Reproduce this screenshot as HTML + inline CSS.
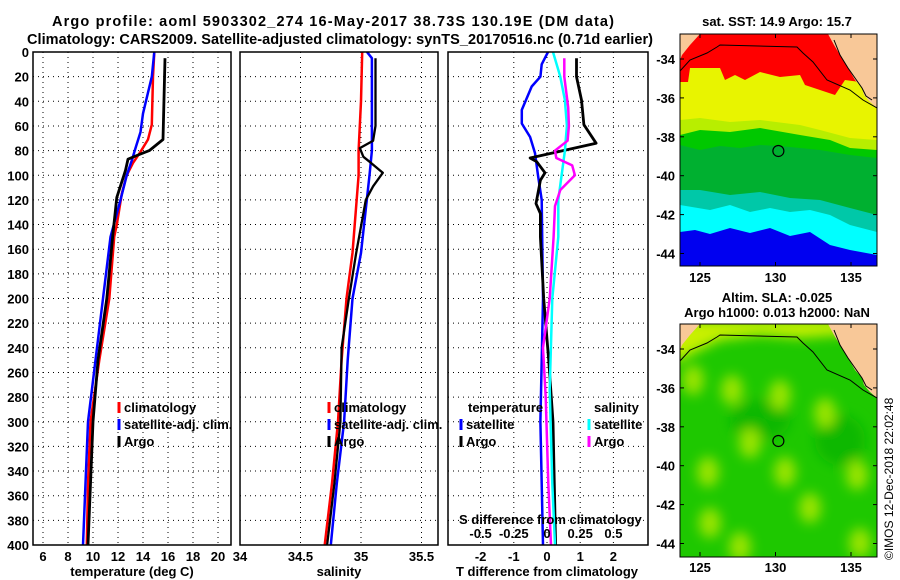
<!DOCTYPE html>
<html><head><meta charset="utf-8"><style>
html,body{margin:0;padding:0;background:#fff}
svg{display:block;font-family:"Liberation Sans",Arial,sans-serif;font-weight:bold}
text{font-size:13px;fill:#000}
</style></head><body>
<svg id="fig" width="900" height="580" viewBox="0 0 900 580">
<defs>
<clipPath id="c1"><rect x="33" y="52" width="198" height="493"/></clipPath>
<clipPath id="c2"><rect x="240" y="52" width="198" height="493"/></clipPath>
<clipPath id="c3"><rect x="448" y="52" width="200" height="493"/></clipPath>
<clipPath id="cm1"><rect x="680" y="34" width="197" height="232"/></clipPath>
<clipPath id="cm2"><rect x="680" y="324" width="197" height="233"/></clipPath>
<filter id="blur" x="-50%" y="-50%" width="200%" height="200%"><feGaussianBlur stdDeviation="6"/></filter>
</defs>
<text x="52" y="26" style="font-size:14.5px" textLength="562">Argo profile: aoml 5903302_274 16-May-2017 38.73S 130.19E (DM data)</text>
<text x="27" y="44" style="font-size:14.5px" textLength="626">Climatology: CARS2009. Satellite-adjusted climatology: synTS_20170516.nc (0.71d earlier)</text>
<g id="p1"></g>
<g id="p2"></g>
<g id="p3"></g>
<g id="leg"></g>
<g id="m1"></g>
<g id="m2"></g>
<text transform="translate(893,560) rotate(-90)" style="font-size:12px;font-weight:normal">©IMOS 12-Dec-2018 22:02:48</text>
</svg>
<script>
// ---- data ----
const depthTicks=[0,20,40,60,80,100,120,140,160,180,200,220,240,260,280,300,320,340,360,380,400];
const tempTicks=[6,8,10,12,14,16,18,20];
const salTicks=[34,34.5,35,35.5];
const salTickLabels=["34","34.5","35","35.5"];
const tdiffTicks=[-2,-1,0,1,2];
const sdiffTicks=[-0.5,-0.25,0,0.25,0.5];
const sdiffLabels=["-0.5","-0.25","0","0.25","0.5"];

const climTdepth=[0,20,59,71,81,90,100,115,140,150,200,250,300,350,400];
const climT=[14.9,14.8,14.7,14.4,13.8,13.2,12.7,12.3,11.9,11.7,11.3,10.5,9.8,9.6,9.5];
const satTdepth=[0,20,50,65,78,88,100,120,150,200,250,300,350,400];
const satT=[14.9,14.7,14.0,13.8,13.4,13.1,12.7,12.2,11.4,10.8,10.2,9.6,9.4,9.2];
const argoTdepth=[5,71,80,84,87,96,118,147,200,250,300,350,400];
const argoT=[15.76,15.6,14.5,13.5,12.8,12.6,11.9,11.6,11.1,10.4,10.0,9.8,9.6];

const climSdepth=[0,40,80,100,163,200,250,300,350,400];
const climS=[35.01,35.0,34.98,34.98,34.93,34.88,34.84,34.81,34.76,34.70];
const satSdepth=[0,5,20,80,100,163,200,250,300,350,400];
const satS=[35.05,35.09,35.09,35.09,35.07,35.0,34.93,34.89,34.86,34.8,34.75];
const argoSdepth=[5,60,72,78,85,89,98,109,120,163,200,240,300,350,400];
const argoS=[35.12,35.12,35.1,34.99,35.02,35.07,35.18,35.1,35.04,34.96,34.9,34.84,34.83,34.78,34.72];

const dTsatDepth=[0,10,20,28,47,58,69,82,100,120,200,300,400];
const dTsat=[0.03,-0.16,-0.2,-0.46,-0.76,-0.76,-0.51,-0.36,-0.27,-0.16,-0.12,-0.2,-0.12];
const dTargoDepth=[5,20,39,59,74,86,89,98,104,123,131,150,200,250,300,350,400];
const dTargo=[0.89,0.89,1.04,1.11,1.48,-0.51,-0.31,-0.06,-0.2,-0.33,-0.2,-0.2,-0.1,0.05,0.18,0.22,0.26];
const dSsatDepth=[0,20,39,60,80,100,120,150,200,274,350,400];
const dSsat=[0.045,0.1,0.135,0.15,0.135,0.11,0.085,0.085,0.04,0.02,0.04,0.06];
const dSargoDepth=[5,20,45,60,72,80,86,92,100,112,125,150,200,240,280,350,400];
const dSargo=[0.13,0.13,0.16,0.165,0.155,0.06,0.07,0.19,0.21,0.1,0.06,0.05,0.02,-0.03,-0.01,0.01,0.03];

const latTicks=[-34,-36,-38,-40,-42,-44];
const lonTicks=[125,130,135];
const argoLon=130.19, argoLat=-38.73;

// ---- helpers ----
const NS="http://www.w3.org/2000/svg";
function mk(parent,tag,attrs,txt){const e=document.createElementNS(NS,tag);for(const k in attrs)e.setAttribute(k,attrs[k]);if(txt!==undefined)e.textContent=txt;parent.appendChild(e);return e;}
const yD=d=>52+d*1.2325;
const xT=t=>43+(t-6)*12.5;
const xS=s=>240+(s-34)*121;
const xDT=v=>547+v*33.2;
const xDS=v=>547+v*132.8;

function frame(g,x0,x1,vx){
  depthTicks.forEach(d=>{if(d>0&&d<400){const l=mk(g,'line',{x1:x0,x2:x1,y1:yD(d),y2:yD(d),stroke:'#000','stroke-width':1,'stroke-dasharray':'1,4'});
    
    }});
  vx.forEach(x=>{const l=mk(g,'line',{x1:x,x2:x,y1:52,y2:545,stroke:'#000','stroke-width':1,'stroke-dasharray':'1,4'});
    
    });
}
function border(g,x0,x1){const r=mk(g,'rect',{x:x0,y:52,width:x1-x0,height:493,fill:'none',stroke:'#000','stroke-width':1.5});
  
  }
function series(g,clip,depths,vals,xf,color,w,name){
  const pts=depths.map((d,i)=>xf(vals[i]).toFixed(1)+','+yD(d).toFixed(1)).join(' ');
  const p=mk(g,'polyline',{points:pts,fill:'none',stroke:color,'stroke-width':w,'clip-path':'url(#'+clip+')','stroke-linejoin':'round'});
  
  
}
const leg=document.getElementById('leg');
function legend(x,y,color,label,name){
  const b=mk(leg,'line',{x1:x,x2:x,y1:y-10,y2:y+1,stroke:color,'stroke-width':3});
  
  
  const t=mk(leg,'text',{x:x+5,y:y},label);
  
  
}

// ---- panel 1 ----
const p1=document.getElementById('p1');
frame(p1,33,231,tempTicks.map(xT));
series(p1,'c1',climTdepth,climT,xT,'#f00',2.5,'climatology-temp-line');
series(p1,'c1',satTdepth,satT,xT,'#00f',2.5,'satellite-temp-line');
series(p1,'c1',argoTdepth,argoT,xT,'#000',2.8,'argo-temp-line');
border(p1,33,231);
depthTicks.forEach(d=>{const t=mk(p1,'text',{x:29,y:yD(d)+5,'text-anchor':'end'},String(d));
  
  });
tempTicks.forEach(v=>{const t=mk(p1,'text',{x:xT(v),y:561,'text-anchor':'middle'},String(v));
  
  });
{const t=mk(p1,'text',{x:132,y:576,'text-anchor':'middle'},'temperature (deg C)');
 
 }

// ---- panel 2 ----
const p2=document.getElementById('p2');
frame(p2,240,438,salTicks.slice(1).map(xS));
series(p2,'c2',climSdepth,climS,xS,'#f00',2.5,'climatology-sal-line');
series(p2,'c2',satSdepth,satS,xS,'#00f',2.5,'satellite-sal-line');
series(p2,'c2',argoSdepth,argoS,xS,'#000',2.3,'argo-sal-line');
border(p2,240,438);
salTicks.forEach((v,i)=>{const t=mk(p2,'text',{x:xS(v),y:561,'text-anchor':'middle'},salTickLabels[i]);
  
  });
{const t=mk(p2,'text',{x:339,y:576,'text-anchor':'middle'},'salinity');
 
 }

// ---- panel 3 ----
const p3=document.getElementById('p3');
frame(p3,448,648,tdiffTicks.map(xDT));
series(p3,'c3',dTsatDepth,dTsat,xDT,'#00f',2.5,'temp-diff-satellite-line');
series(p3,'c3',dTargoDepth,dTargo,xDT,'#000',2.8,'temp-diff-argo-line');
series(p3,'c3',dSsatDepth,dSsat,xDS,'#0ff',2.5,'sal-diff-satellite-line');
series(p3,'c3',dSargoDepth,dSargo,xDS,'#f0f',2.5,'sal-diff-argo-line');
border(p3,448,648);
tdiffTicks.forEach(v=>{const t=mk(p3,'text',{x:xDT(v),y:561,'text-anchor':'middle'},String(v));
  
  });
sdiffTicks.forEach((v,i)=>{const t=mk(p3,'text',{x:xDS(v),y:538,'text-anchor':'middle'},sdiffLabels[i]);
  
  });
{const t=mk(p3,'text',{x:459,y:524},'S difference from climatology');
 
 }
{const t=mk(p3,'text',{x:547,y:576,'text-anchor':'middle'},'T difference from climatology');
 
 }
{const t=mk(leg,'text',{x:468,y:412},'temperature');
 
 
 const u=mk(leg,'text',{x:594,y:412},'salinity');
 
 }
legend(119,412,'#f00','climatology','legend-climatology');
legend(119,429,'#00f','satellite-adj. clim.','legend-satellite-adj');
legend(119,446,'#000','Argo','legend-argo');
legend(329,412,'#f00','climatology','legend-climatology-s');
legend(329,429,'#00f','satellite-adj. clim.','legend-satellite-adj-s');
legend(329,446,'#000','Argo','legend-argo-s');
legend(461,429,'#00f','satellite','legend-temp-satellite');
legend(461,446,'#000','Argo','legend-temp-argo');
legend(589,429,'#0ff','satellite','legend-sal-satellite');
legend(589,446,'#f0f','Argo','legend-sal-argo');

// ---- maps ----
function mapAxes(g,top){
  const lat0=top+25;
  const yL=l=>lat0+(-34-l)*19.45;
  const xL=l=>700+(l-125)*15.1;
  latTicks.forEach(l=>{
    const t=mk(g,'text',{x:675,y:yL(l)+5,'text-anchor':'end'},String(l));
    
    
    mk(g,'line',{x1:680,x2:684,y1:yL(l),y2:yL(l),stroke:'#000'});
    mk(g,'line',{x1:873,x2:877,y1:yL(l),y2:yL(l),stroke:'#000'});
  });
  lonTicks.forEach(l=>{
    const t=mk(g,'text',{x:xL(l),y:top+248,'text-anchor':'middle'},String(l));
    
    
    mk(g,'line',{x1:xL(l),x2:xL(l),y1:top,y2:top+4,stroke:'#000'});
    mk(g,'line',{x1:xL(l),x2:xL(l),y1:top+228,y2:top+232,stroke:'#000'});
  });
  const c=mk(g,'circle',{cx:xL(argoLon),cy:yL(argoLat),r:5.5,fill:'none',stroke:'#000','stroke-width':1.2});
  
  
}
function land(g,top,clip){
  const o=top-34;
  const f=(pts)=>pts.map(p=>p[0]+','+(p[1]+o)).join(' ');
  mk(g,'polygon',{points:f([[680,34],[700,34],[690,45],[682,55],[680,60]]),fill:'#f8c898','clip-path':clip});
  mk(g,'polygon',{points:f([[828,34],[877,34],[877,108],[870,102],[864,95],[862,88],[855,80],[848,68],[840,55],[834,45]]),fill:'#f8c898','clip-path':clip});
  mk(g,'polyline',{points:f([[680,71],[690,60],[707,53],[717,47],[720,45],[797,47],[803,53],[813,62],[827,80],[850,90],[863,100],[877,108]]),fill:'none',stroke:'#000','stroke-width':1,'clip-path':clip});
  mk(g,'polyline',{points:f([[834,40],[840,55],[848,68],[855,78],[862,88],[866,96],[872,100]]),fill:'none',stroke:'#000','stroke-width':1,'clip-path':clip});
}
const m1=document.getElementById('m1');
{const t=mk(m1,'text',{x:777,y:26,'text-anchor':'middle'},'sat. SST: 14.9 Argo: 15.7');
 
 }
{const cl='url(#cm1)';
 mk(m1,'rect',{x:680,y:34,width:197,height:232,fill:'#0000f0'});
 mk(m1,'polygon',{points:'680,34 877,34 877,255 850,250 830,245 810,232 790,236 770,228 750,233 730,228 710,234 695,230 680,232',fill:'#00ffff','clip-path':cl});
 mk(m1,'polygon',{points:'680,34 877,34 877,232 850,225 830,215 810,210 790,212 770,208 750,212 730,205 710,210 680,205',fill:'#00c8a8','clip-path':cl});
 mk(m1,'polygon',{points:'680,34 877,34 877,215 850,208 820,200 790,198 760,192 730,195 700,190 680,190',fill:'#00b030','clip-path':cl});
 mk(m1,'polygon',{points:'680,34 877,34 877,158 850,155 820,150 800,148 780,146 760,145 740,148 720,146 700,150 680,145',fill:'#00c800','clip-path':cl});
 mk(m1,'polygon',{points:'680,34 877,34 877,150 850,148 830,140 800,135 760,128 730,132 700,130 680,135',fill:'#b8ee00','clip-path':cl});
 mk(m1,'polygon',{points:'680,34 877,34 877,140 850,138 820,130 800,125 760,120 730,122 700,118 680,120',fill:'#e8f400','clip-path':cl});
 mk(m1,'polygon',{points:'680,34 877,34 877,80 860,82 845,80 835,95 820,90 805,85 800,75 780,77 760,72 745,80 735,75 725,80 720,68 705,68 690,68 688,82 680,82',fill:'#f00','clip-path':cl});
 land(m1,34,cl);
 mk(m1,'rect',{x:680,y:34,width:197,height:232,fill:'none',stroke:'#000','stroke-width':1});
 mapAxes(m1,34);}
const m2=document.getElementById('m2');
{const t=mk(m2,'text',{x:777,y:302,'text-anchor':'middle'},'Altim. SLA: -0.025');
 
 
 const u=mk(m2,'text',{x:777,y:317,'text-anchor':'middle'},'Argo h1000: 0.013 h2000: NaN');
 
 }
const blobX=[693,732,780,825,750,708,785,857,810,710,740,860];
const blobY=[380,390,395,413,443,472,472,475,508,523,547,543];
{const cl='url(#cm2)';
 mk(m2,'rect',{x:680,y:324,width:197,height:233,fill:'#1ec800'});
 const g=mk(m2,'g',{'clip-path':cl});
 const gb=mk(g,'g',{filter:'url(#blur)'});
 mk(gb,'polygon',{points:'670,320 880,320 880,340 840,335 800,338 760,335 720,340 690,355 670,365',fill:'#c8f000'});
 mk(gb,'ellipse',{cx:760,cy:420,rx:30,ry:20,fill:'#10b800'});
 mk(gb,'ellipse',{cx:840,cy:440,rx:25,ry:25,fill:'#10b800'});
 blobX.forEach((x,i)=>{const e=mk(gb,'ellipse',{cx:x,cy:blobY[i],rx:11,ry:15,fill:'#98e400'});
   
   });
 land(m2,324,cl);
 mk(m2,'rect',{x:680,y:324,width:197,height:233,fill:'none',stroke:'#000','stroke-width':1});
 mapAxes(m2,324);}
</script>
</body></html>
